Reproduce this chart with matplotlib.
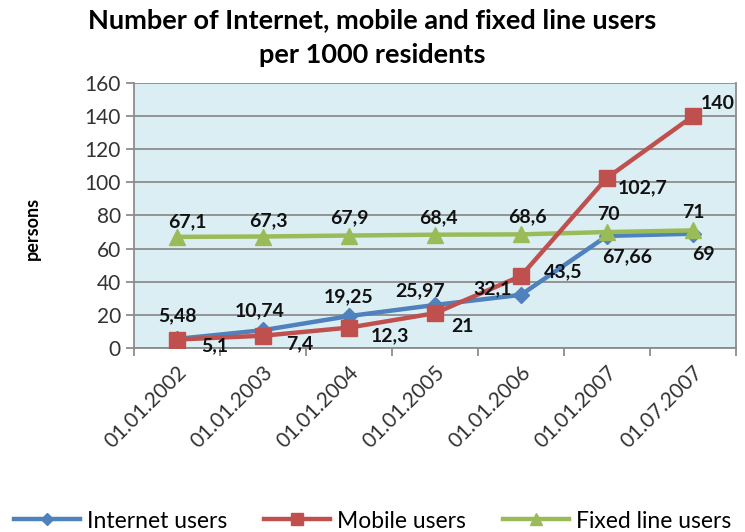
import matplotlib.pyplot as plt

plt.rcParams["font.family"] = ["Lato", "DejaVu Sans"]

dates = ["01.01.2002", "01.01.2003", "01.01.2004", "01.01.2005",
         "01.01.2006", "01.01.2007", "01.07.2007"]
internet = [5.48, 10.74, 19.25, 25.97, 32.1, 67.66, 69]
mobile = [5.1, 7.4, 12.3, 21, 43.5, 102.7, 140]
fixed = [67.1, 67.3, 67.9, 68.4, 68.6, 70, 71]

# label offsets in pixels (dx, dy up)
off_int = [(0, 23), (-3, 19), (0, 19), (-15, 14), (-28, 6), (20, -21), (10, -21)]
off_mob = [(38, -6), (37, -8), (41, -8), (27, -13), (42, 4), (36, -10), (25, 13)]
off_fix = [(10, 15), (5, 16), (0, 18), (3, 17), (6, 18), (1, 18), (0, 18)]


def fmt(v):
    s = ("%g" % v).replace(".", ",")
    return s


fig = plt.figure(figsize=(7.45, 5.32), dpi=100)
ax = fig.add_axes([0.1799, 0.3459, 0.808, 0.4981])
ax.set_facecolor("#dbeef4")

x = list(range(len(dates)))
ax.plot(x, internet, color="#4f81bd", lw=3.2, marker="D", ms=8, zorder=3, label="Internet users")
ax.plot(x, fixed, color="#9bbb59", lw=3.2, marker="^", ms=11, zorder=4, label="Fixed line users")
ax.plot(x, mobile, color="#c0504d", lw=3.2, marker="s", ms=11, zorder=5, label="Mobile users")

for ser, offs in ((internet, off_int), (mobile, off_mob), (fixed, off_fix)):
    for i, v in enumerate(ser):
        ax.annotate(fmt(v), (i, v), xytext=offs[i], textcoords="offset pixels",
                    ha="center", va="center", fontsize=14, fontweight="bold",
                    color="#111111", zorder=6)

ax.set_xlim(-0.5, 6.5)
ax.set_ylim(0, 160)
ax.set_yticks(range(0, 161, 20))
ax.yaxis.grid(True, color="#8c8c8c", lw=1.3)
ax.set_axisbelow(True)
ax.set_xticks(x)
ax.set_xticklabels(dates, rotation=45, ha="right", rotation_mode="anchor", fontsize=15, color="#333333")
ax.set_xticks([i - 0.5 for i in range(8)], minor=True)
ax.tick_params(axis="x", which="major", length=0, pad=10)
ax.tick_params(axis="x", which="minor", length=6, color="#8c8c8c", width=1.3)
ax.tick_params(axis="y", length=6, color="#8c8c8c", width=1.3, labelsize=15, labelcolor="#333333")
for s in ("left", "bottom", "right"):
    ax.spines[s].set_color("#8c8c8c")
    ax.spines[s].set_linewidth(1.3)
ax.spines["top"].set_visible(False)

ax.set_ylabel("persons", fontsize=13, fontweight="bold")
ax.yaxis.set_label_coords(-0.155, 0.453)

fig.text(0.5, 1 - 20 / 532, "Number of Internet, mobile and fixed line users",
         ha="center", va="center", fontsize=19.5, fontweight="bold")
fig.text(0.5, 1 - 55 / 532, "per 1000 residents",
         ha="center", va="center", fontsize=19.5, fontweight="bold")

h, l = ax.get_legend_handles_labels()
order = [0, 2, 1]
fig.legend([h[i] for i in order], [l[i] for i in order], loc="center",
           bbox_to_anchor=(0.5, 1 - 521 / 532), ncol=3, frameon=False,
           fontsize=16.5, handlelength=2.9, columnspacing=1.6, handletextpad=0.3,
           markerscale=0.8, borderaxespad=0, borderpad=0)

fig.savefig("out.png", dpi=100)
